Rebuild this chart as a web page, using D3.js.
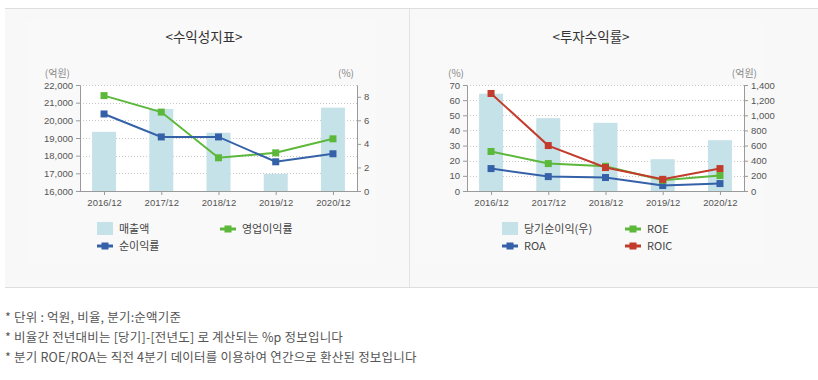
<!DOCTYPE html>
<html>
<head>
<meta charset="utf-8">
<script src="https://cdn.jsdelivr.net/npm/d3@7"></script>
<style>
  body { margin: 0; background: #fff; font-family: "Noto Sans CJK KR", "Noto Sans", sans-serif; }
  svg { display: block; }
</style>
</head>
<body>
<svg id="chart" width="818" height="380"></svg>
<script>
// periods shared by both charts
const periods = ['2016/12', '2017/12', '2018/12', '2019/12', '2020/12'];

// <수익성지표>
const sales = [19350, 20640, 19300, 16970, 20720];          // 매출액 (억원)
const opMargin = [8.1, 6.7, 2.82, 3.24, 4.43];              // 영업이익률 (%)
const netMargin = [6.54, 4.59, 4.59, 2.48, 3.16];           // 순이익률 (%)
const salesTicks = [16000, 17000, 18000, 19000, 20000, 21000, 22000];
const marginTicks = [0, 2, 4, 6, 8];

// <투자수익률>
const netIncome = [1285, 962, 901, 420, 671];               // 당기순이익(우) (억원)
const roe = [26.1, 18.1, 16.3, 7.1, 10.2];
const roa = [14.8, 9.5, 8.9, 3.6, 4.9];
const roic = [64.4, 30.0, 15.5, 7.7, 14.8];
const rateTicks = [0, 10, 20, 30, 40, 50, 60, 70];
const incomeTicks = [0, 200, 400, 600, 800, 1000, 1200, 1400];

const notes = [
    '* 단위 : 억원, 비율, 분기:순액기준',
    '* 비율간 전년대비는 [당기]-[전년도] 로 계산되는 %p 정보입니다',
    '* 분기 ROE/ROA는 직전 4분기 데이터를 이용하여 연간으로 환산된 정보입니다'
];

const C = { bar: '#c6e2e9', green: '#5cb83a', blue: '#3461a8', red: '#c23b2b' };

const svg = d3.select('#chart');

// panels
svg.append('rect').attr('x', 5).attr('y', 8).attr('width', 813).attr('height', 279).attr('fill', '#f8f8f8');
svg.append('line').attr('x1', 5).attr('x2', 818).attr('y1', 8.5).attr('y2', 8.5).attr('stroke', '#dedede');
svg.append('line').attr('x1', 5).attr('x2', 818).attr('y1', 287.5).attr('y2', 287.5).attr('stroke', '#dedede');
svg.append('line').attr('x1', 409.5).attr('x2', 409.5).attr('y1', 9).attr('y2', 287).attr('stroke', '#e3e3e3');

function drawChart(opt) {
    const g = svg.append('g').attr('transform', `translate(${opt.ox},0)`);
    const left = 80, right = 357, top = 85, bottom = 191;

    g.append('rect').attr('x', 27).attr('y', 20).attr('width', 350).attr('height', 243).attr('fill', '#f9f9f9');
    g.append('rect').attr('x', left).attr('y', top).attr('width', right - left).attr('height', bottom - top).attr('fill', '#fff');

    g.append('text')
        .attr('x', 204).attr('y', 42)
        .attr('text-anchor', 'middle')
        .attr('font-size', '13.5px').attr('fill', '#333')
        .text(opt.title);

    const x = d3.scalePoint().domain(periods).range([left, right]).padding(0.42);
    const yL = d3.scaleLinear().domain(opt.leftDomain).range([bottom, top]);
    const yR = d3.scaleLinear().domain(opt.rightDomain).range([bottom, top]);
    const yBar = opt.barOnLeft ? yL : yR;
    const yLine = opt.barOnLeft ? yR : yL;

    // gridlines
    opt.gridTicks.forEach(v => {
        g.append('line')
            .attr('x1', left).attr('x2', right)
            .attr('y1', Math.round(yL(v)) + 0.5)
            .attr('y2', Math.round(yL(v)) + 0.5)
            .attr('stroke', '#c8c8c8').attr('stroke-dasharray', '1,2');
    });

    // bars
    g.selectAll('.bar')
        .data(opt.bars)
        .join('rect')
        .attr('x', (d, i) => x(periods[i]) - 12)
        .attr('width', 24)
        .attr('y', d => yBar(d))
        .attr('height', d => bottom - yBar(d))
        .attr('fill', C.bar);

    // axes
    g.append('g').attr('class', 'axis').attr('transform', `translate(${left},0)`)
        .call(d3.axisLeft(yL).tickValues(opt.leftTicks).tickSize(4).tickSizeOuter(0).tickFormat(d3.format(',')));
    g.append('g').attr('class', 'axis').attr('transform', `translate(${right},0)`)
        .call(d3.axisRight(yR).tickValues(opt.rightTicks).tickSize(4).tickSizeOuter(0).tickFormat(d3.format(',')));
    const axB = g.append('g').attr('class', 'axis').attr('transform', `translate(0,${bottom})`)
        .call(d3.axisBottom(x).tickSize(4).tickSizeOuter(0).tickPadding(4));
    axB.select('.domain').attr('d', `M${left},0.5H${right}`);

    g.selectAll('.axis path, .axis line').attr('stroke', '#9a9a9a');
    g.selectAll('.axis text').attr('fill', '#555').attr('font-size', '9.5px')
        .attr('font-family', '"Liberation Sans", Arial, sans-serif');

    // unit labels
    g.append('text').attr('x', opt.leftUnitX).attr('y', 77).attr('font-size', '10px').attr('fill', '#888')
        .attr('text-anchor', 'end').text(opt.leftUnit);
    g.append('text').attr('x', opt.rightUnitX).attr('y', 77).attr('font-size', '10px').attr('fill', '#888')
        .attr('text-anchor', 'end').text(opt.rightUnit);

    // lines
    const line = d3.line().x((d, i) => x(periods[i])).y(d => yLine(d));
    opt.lines.forEach(s => {
        g.append('path').datum(s.values)
            .attr('d', line).attr('fill', 'none')
            .attr('stroke', s.color).attr('stroke-width', 2);
        g.selectAll(null).data(s.values).join('rect')
            .attr('x', (d, i) => x(periods[i]) - 3.5)
            .attr('y', d => yLine(d) - 3.5)
            .attr('width', 7).attr('height', 7)
            .attr('fill', s.color);
    });

    // legend
    opt.legend.forEach((it, i) => {
        const lx = opt.legendX[i % 2];
        const ly = 229 + Math.floor(i / 2) * 17;
        if (it.type === 'bar') {
            g.append('rect').attr('x', lx).attr('y', ly - 7).attr('width', 16).attr('height', 13).attr('fill', C.bar);
        } else {
            g.append('line').attr('x1', lx).attr('x2', lx + 16).attr('y1', ly).attr('y2', ly)
                .attr('stroke', it.color).attr('stroke-width', 3);
            g.append('rect').attr('x', lx + 4.5).attr('y', ly - 3.5).attr('width', 7).attr('height', 7).attr('fill', it.color);
        }
        g.append('text').attr('x', lx + 22).attr('y', ly + 4)
            .attr('font-size', '11px').attr('fill', '#444').text(it.label);
    });
}

drawChart({
    ox: 0,
    title: '<수익성지표>',
    leftDomain: [16000, 22000], rightDomain: [0, 9],
    leftTicks: salesTicks, rightTicks: marginTicks,
    gridTicks: salesTicks.slice(1),
    barOnLeft: true,
    bars: sales,
    leftUnit: '(억원)', leftUnitX: 70, rightUnit: '(%)', rightUnitX: 354,
    lines: [
        { values: opMargin, color: C.green },
        { values: netMargin, color: C.blue }
    ],
    legendX: [97, 220],
    legend: [
        { type: 'bar', label: '매출액' },
        { type: 'line', label: '영업이익률', color: C.green },
        { type: 'line', label: '순이익률', color: C.blue }
    ]
});

drawChart({
    ox: 387,
    title: '<투자수익률>',
    leftDomain: [0, 70], rightDomain: [0, 1400],
    leftTicks: rateTicks, rightTicks: incomeTicks,
    gridTicks: rateTicks.slice(1),
    barOnLeft: false,
    bars: netIncome,
    leftUnit: '(%)', leftUnitX: 77, rightUnit: '(억원)', rightUnitX: 370,
    lines: [
        { values: roa, color: C.blue },
        { values: roe, color: C.green },
        { values: roic, color: C.red }
    ],
    legendX: [115, 238],
    legend: [
        { type: 'bar', label: '당기순이익(우)' },
        { type: 'line', label: 'ROE', color: C.green },
        { type: 'line', label: 'ROA', color: C.blue },
        { type: 'line', label: 'ROIC', color: C.red }
    ]
});

// footnotes
svg.selectAll('.note').data(notes).join('text')
    .attr('class', 'note')
    .attr('x', 5).attr('y', (d, i) => 322 + i * 20)
    .attr('font-size', '12.5px').attr('fill', '#555')
    .attr('letter-spacing', '0.2px')
    .text(d => d);
</script>
</body>
</html>
